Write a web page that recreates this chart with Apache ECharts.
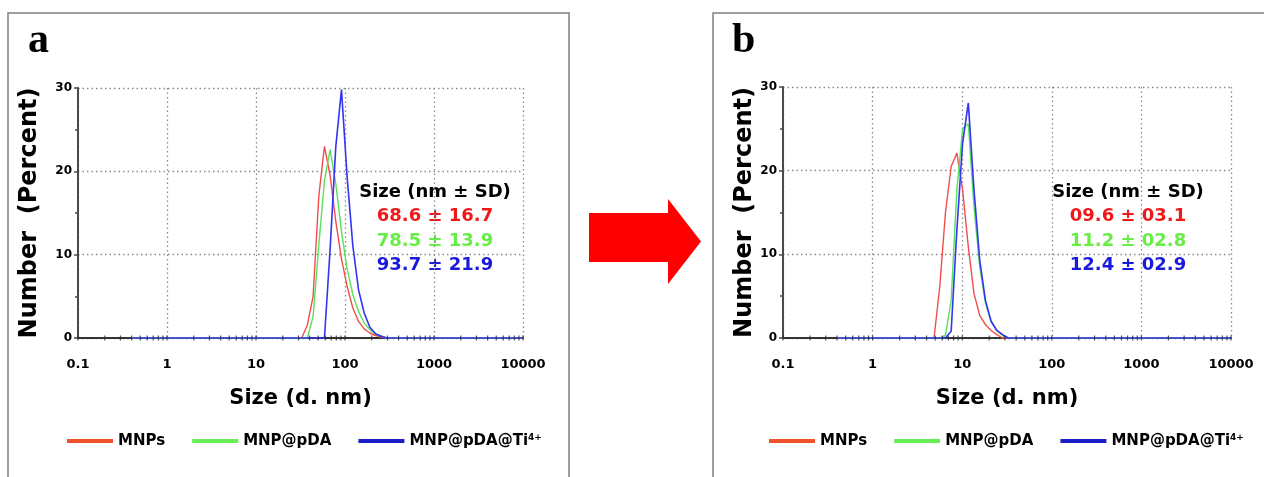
<!DOCTYPE html>
<html>
<head>
<meta charset="utf-8">
<script src="https://cdn.jsdelivr.net/npm/echarts@6/dist/echarts.min.js"></script>
<style>
  html, body { margin: 0; padding: 0; background: #fff; }
  #chart { width: 1264px; height: 477px; }
</style>
</head>
<body>
<div id="chart"></div>
<script>
// DLS number distributions (size bins in nm, number %)
const sizesA = [0.4, 32.67, 37.84, 43.82, 50.75, 58.77, 68.06, 78.82, 91.28, 105.7, 122.4, 141.8, 164.2, 190.1, 220.2, 255.0, 295.3, 10000];
const mnpsA  = [0,   0,     1.6,   5.0,   17.0,  23.0,  19.5,  14.0,  9.5,   6.2,   3.6,   2.0,   1.1,   0.6,   0.3,   0.1,   0,     0];
const pdaA   = [0,   0,     0,     2.6,   11.1,  18.9,  22.6,  18.5,  12.8,  8.3,   5.2,   3.2,   1.8,   1.0,   0.5,   0.25,  0,     0];
const tiA    = [0,   0,     0,     0,     0,     0,     10.7,  23.0,  29.8,  19.3,  11.1,  5.8,   3.0,   1.3,   0.5,   0.2,   0,     0];

const sizesB = [0.4, 4.849, 5.615, 6.503, 7.531, 8.721, 10.1, 11.7, 13.54, 15.69, 18.17, 21.04, 24.36, 28.21, 32.67, 10000];
const mnpsB  = [0,   0,     6.1,   15.0,  20.5,  22.1,  17.7, 10.9, 5.3,   2.7,   1.6,   0.9,   0.4,   0,     0,     0];
const pdaB   = [0,   0,     0,     0.3,   4.5,   17.7,  25.0, 25.6, 15.7,  8.5,   4.2,   1.9,   0.9,   0.3,   0,     0];
const tiB    = [0,   0,     0,     0,     0.8,   12.9,  23.3, 28.1, 17.7,  9.3,   4.5,   2.0,   0.9,   0.4,   0,     0];

const seriesNames = ['MNPs', 'MNP@pDA', 'MNP@pDA@Ti4+'];
const xTickLabels = ['0.1', '1', '10', '100', '1000', '10000'];
const yTicks = [0, 10, 20, 30];
const statsTitle = 'Size (nm \u00b1 SD)';
const statsA = ['68.6 \u00b1 16.7', '78.5 \u00b1 13.9', '93.7 \u00b1 21.9'];
const statsB = ['09.6 \u00b1 03.1', '11.2 \u00b1 02.8', '12.4 \u00b1 02.9'];

const lineColors = ['#f24c4c', '#58e258', '#3434f4'];
const legendColors = ['#f0522c', '#66ee55', '#1c1cc8'];
const textColors = ['#ee1a1a', '#66ee44', '#1a1add'];
const FONT = 'DejaVu Sans';

// log-axis tick positions (1..9 within each decade)
function logTickPoints() {
  const pts = [];
  for (let e = -1; e <= 3; e++) {
    for (let m = 1; m <= 9; m++) pts.push([m * Math.pow(10, e), 0]);
  }
  pts.push([10000, 0]);
  return pts;
}

function pairs(xs, ys) { return xs.map((x, i) => [x, ys[i]]); }

const chart = echarts.init(document.getElementById('chart'), null, { renderer: 'canvas' });

const grids = [
  { left: 78, top: 88, width: 445, height: 250 },
  { left: 783, top: 87, width: 448, height: 251 }
];

function xAxisFor(gi, nameGap) {
  return {
    gridIndex: gi, type: 'log', logBase: 10, min: 0.1, max: 10000, z: 0,
    name: 'Size (d. nm)', nameLocation: 'middle', nameGap: nameGap,
    nameTextStyle: { fontFamily: FONT, fontWeight: 'bold', fontSize: 21, color: '#000' },
    axisLine: { show: true, onZero: false, lineStyle: { color: '#333', width: 2 } },
    axisTick: { show: false },
    axisLabel: {
      margin: 20, fontFamily: FONT, fontWeight: 'bold', fontSize: 13, color: '#000',
      formatter: (v, i) => xTickLabels[i] !== undefined ? xTickLabels[i] : ''
    },
    splitLine: { show: true, lineStyle: { color: '#8c8c8c', width: 1.3, type: [1.5, 3] } }
  };
}

function yAxisFor(gi, nameGap) {
  return {
    gridIndex: gi, type: 'value', min: 0, max: 30, interval: 10, z: 0,
    name: 'Number  (Percent)', nameLocation: 'middle', nameGap: nameGap, nameRotate: 90,
    nameTextStyle: { fontFamily: FONT, fontWeight: 'bold', fontSize: 24, color: '#000' },
    axisLine: { show: true, lineStyle: { color: '#4a4a4a', width: 2 } },
    axisTick: { show: true, length: 4, lineStyle: { color: '#4a4a4a', width: 1.5 } },
    minorTick: { show: true, splitNumber: 2, length: 3, lineStyle: { color: '#4a4a4a', width: 1.5 } },
    axisLabel: {
      margin: 6, fontFamily: FONT, fontWeight: 'bold', fontSize: 12, color: '#000',
      formatter: v => yTicks.indexOf(v) >= 0 ? String(v) : ''
    },
    splitLine: { show: true, lineStyle: { color: '#8c8c8c', width: 1.3, type: [1.5, 3] } }
  };
}

function lineSeries(gi, name, xs, ys, ci) {
  return {
    type: 'line', name: name, xAxisIndex: gi, yAxisIndex: gi,
    data: pairs(xs, ys), symbol: 'none', smooth: false, clip: false,
    lineStyle: { color: lineColors[ci], width: ci === 2 ? 1.6 : 1.4 },
    itemStyle: { color: legendColors[ci] },
    emphasis: { disabled: true }, z: 5 + ci
  };
}

function tickSeries(gi) {
  return {
    type: 'scatter', xAxisIndex: gi, yAxisIndex: gi, data: logTickPoints(),
    symbol: 'rect', symbolSize: [1.2, 5], itemStyle: { color: '#2a2a3a' },
    silent: true, z: 10, clip: false
  };
}

function legendFor(left) {
  return {
    left: left, top: 428, icon: 'rect', itemWidth: 46, itemHeight: 4, itemGap: 27,
    selectedMode: false,
    data: seriesNames.map((n, i) => ({ name: n, itemStyle: { color: legendColors[i] } })),
    formatter: n => n.replace('Ti4+', 'Ti{sup|4+}'),
    textStyle: {
      fontFamily: FONT, fontWeight: 'bold', fontSize: 15, color: '#000',
      rich: { sup: { fontFamily: FONT, fontWeight: 'bold', fontSize: 9, color: '#000', padding: [0, 0, 7, 0] } }
    }
  };
}

function centeredText(cx, y, s, color) {
  return {
    type: 'text', x: cx, y: y,
    style: { text: s, fill: color, font: 'bold 18px "' + FONT + '"', align: 'center', verticalAlign: 'middle' }
  };
}

const graphics = [
  { type: 'rect', shape: { x: 8, y: 13, width: 561, height: 500 }, style: { fill: 'none', stroke: '#7f7f7f', lineWidth: 1.5 }, silent: true },
  { type: 'rect', shape: { x: 713, y: 13, width: 600, height: 500 }, style: { fill: 'none', stroke: '#7f7f7f', lineWidth: 1.5 }, silent: true },
  { type: 'polygon', shape: { points: [[589, 213], [668, 213], [668, 199], [701, 241.5], [668, 284], [668, 262], [589, 262]] }, style: { fill: '#ff0000' }, silent: true },
  { type: 'text', x: 28, y: 62, style: { text: 'a', fill: '#000', font: 'bold 42px "Liberation Serif"', verticalAlign: 'bottom' } },
  { type: 'text', x: 732, y: 62, style: { text: 'b', fill: '#000', font: 'bold 42px "Liberation Serif"', verticalAlign: 'bottom' } },
  centeredText(435, 192, statsTitle, '#000'),
  centeredText(1128, 192, statsTitle, '#000')
];
statsA.forEach((s, i) => graphics.push(centeredText(435, 216.5 + i * 24.5, s, textColors[i])));
statsB.forEach((s, i) => graphics.push(centeredText(1128, 216.5 + i * 24.5, s, textColors[i])));

chart.setOption({
  backgroundColor: '#fff',
  animation: false,
  grid: grids,
  xAxis: [xAxisFor(0, 50), xAxisFor(1, 50)],
  yAxis: [yAxisFor(0, 36), yAxisFor(1, 26)],
  legend: [legendFor(62), legendFor(764)],
  series: [
    lineSeries(0, seriesNames[0], sizesA, mnpsA, 0),
    lineSeries(0, seriesNames[1], sizesA, pdaA, 1),
    lineSeries(0, seriesNames[2], sizesA, tiA, 2),
    tickSeries(0),
    lineSeries(1, seriesNames[0], sizesB, mnpsB, 0),
    lineSeries(1, seriesNames[1], sizesB, pdaB, 1),
    lineSeries(1, seriesNames[2], sizesB, tiB, 2),
    tickSeries(1)
  ],
  graphic: graphics
});
</script>
</body>
</html>
